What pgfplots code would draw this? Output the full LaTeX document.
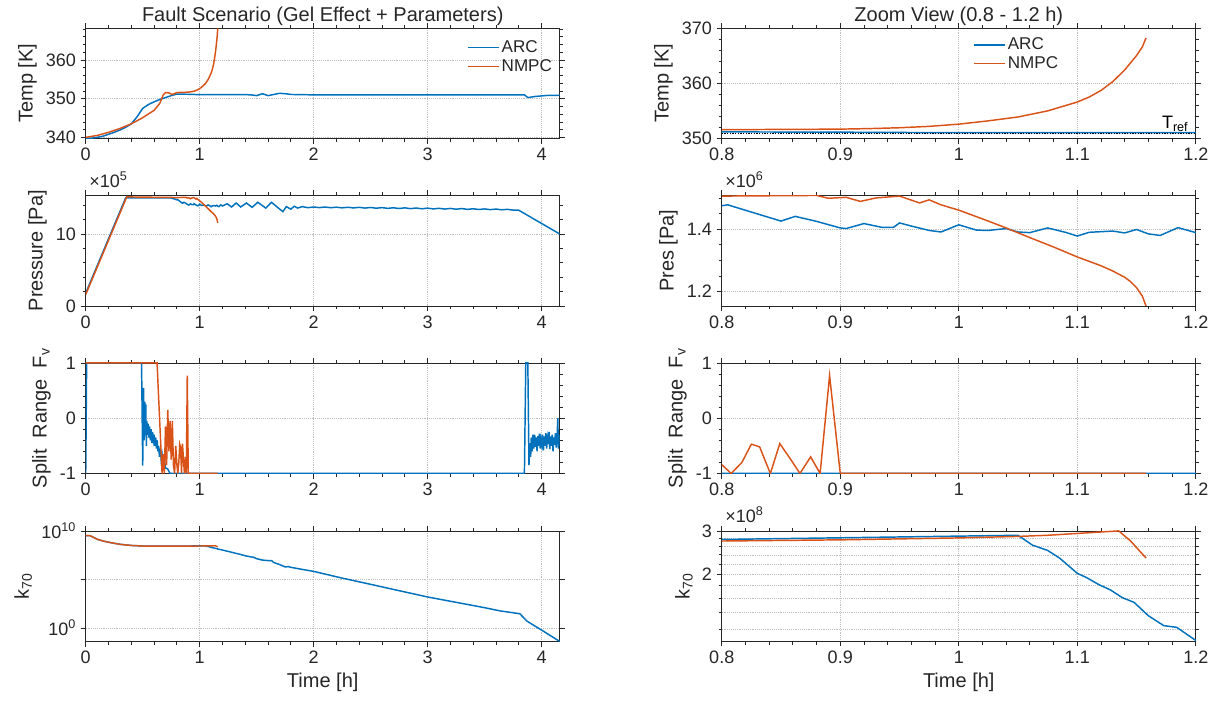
\documentclass[border=0pt]{standalone}
\usepackage{pgfplots}
\pgfplotsset{compat=1.18}
\usepackage{pgfplotstable}
\usepackage{fontspec}
\setmainfont{Liberation Sans}
\definecolor{arcblue}{RGB}{0,114,189}
\definecolor{nmpcor}{RGB}{217,83,25}
\definecolor{axcol}{RGB}{38,38,38}
\newcommand\tickfont{\fontsize{13.5}{15}\selectfont}
\newcommand\labfont{\fontsize{15}{17}\selectfont}
\newcommand\legfont{\fontsize{12.8}{14}\selectfont}

% ---------------- Temperature [K]
\pgfplotstableread{
t T
0 339.7
0.05 339.8
0.1 340.0
0.15 340.3
0.2 340.8
0.25 341.3
0.3 341.9
0.35 342.6
0.4 343.5
0.45 345.3
0.5 347.5
0.55 348.5
0.6 349.2
0.65 349.8
0.7 350.3
0.75 350.8
0.8 351.2
0.9 351.15
1.0 351.05
1.2 351.05
1.4 351.05
1.45 351.0
1.5 350.8
1.55 351.3
1.6 350.8
1.65 351.1
1.7 351.4
1.75 351.3
1.8 351.1
2.0 351.0
3.85 351.0
3.88 350.3
3.95 350.6
4.05 350.85
4.16 350.9
}\TarcT
\pgfplotstableread{
t T
0 340.0
0.1 340.5
0.2 341.3
0.3 342.3
0.4 343.5
0.5 345.1
0.6 347.0
0.65 348.8
0.68 351.0
0.7 351.6
0.73 351.5
0.76 351.1
0.8 351.6
0.85 351.65
0.9 351.7
0.925 351.8
0.95 351.95
0.975 352.2
1.0 352.6
1.025 353.2
1.05 353.9
1.075 355.0
1.1 356.6
1.11 357.5
1.12 358.7
1.13 360.3
1.14 362.4
1.15 365.0
1.155 366.6
1.158 368.2
}\TnmpcT

% ---------------- Pressure [x1e5 Pa]
\pgfplotstableread{
t p
0 1.8
0.35 15.0
0.75 15.0
0.78 14.85
0.8 14.75
0.805 14.78
0.83 14.49
0.85 14.26
0.862 14.41
0.88 14.25
0.9 14.04
0.905 14.02
0.92 14.18
0.935 14.06
0.945 14.06
0.95 14.2
0.96 14.1
0.975 13.96
0.985 13.91
1.0 14.14
1.015 13.97
1.025 13.96
1.04 14.02
1.05 13.91
1.06 13.89
1.075 14.04
1.09 13.9
1.1 13.78
1.11 13.9
1.13 13.94
1.14 13.88
1.15 13.99
1.16 13.85
1.17 13.8
1.185 14.05
1.2 13.89
1.24 14.2
1.28 13.75
1.32 14.3
1.36 13.75
1.41 14.3
1.46 13.7
1.51 14.4
1.58 13.6
1.63 14.4
1.73 13.1
1.76 13.8
1.8 13.45
1.83 13.85
1.86 13.6
1.9 13.8
1.95 13.65
2.0 13.75
2.05 13.66
2.1 13.74
2.15 13.65
2.2 13.72
2.25 13.63
2.3 13.71
2.35 13.62
2.4 13.7
2.45 13.6
2.5 13.68
2.55 13.58
2.6 13.66
2.65 13.56
2.7 13.64
2.75 13.54
2.8 13.63
2.85 13.52
2.9 13.61
2.95 13.5
3.0 13.59
3.05 13.48
3.1 13.57
3.15 13.46
3.2 13.55
3.25 13.44
3.3 13.53
3.35 13.42
3.4 13.5
3.45 13.4
3.5 13.48
3.55 13.38
3.6 13.46
3.65 13.36
3.7 13.42
3.75 13.32
3.8 13.3
4.16 10.0
}\TarcP
\pgfplotstableread{
t p
0 1.6
0.36 15.15
0.6 15.1
0.8 15.06
0.88 15.08
0.89 14.99
0.905 15.02
0.917 14.89
0.93 15.0
0.95 15.06
0.967 14.84
0.975 14.94
0.985 14.78
1.0 14.61
1.02 14.33
1.04 14.04
1.06 13.73
1.08 13.43
1.1 13.11
1.11 12.97
1.12 12.83
1.13 12.66
1.14 12.46
1.145 12.32
1.15 12.13
1.155 11.85
1.158 11.54
}\TnmpcP

% ---------------- Split range Fv
\pgfplotstableread{
t f
0 -1
0.008 1
0.49 1
0.5 -0.86
0.508 0.55
0.513 -0.4
0.518 0.3
0.522 -0.3
0.527 0.25
0.532 -0.5
0.537 -0.05
0.542 -0.3
0.548 -0.1
0.555 -0.35
0.56 -0.15
0.567 -0.4
0.573 -0.2
0.58 -0.45
0.587 -0.25
0.594 -0.4
0.6 -0.3
0.607 -0.5
0.614 -0.35
0.62 -0.55
0.627 -0.4
0.634 -0.6
0.64 -0.5
0.647 -0.7
0.655 -0.55
0.662 -0.75
0.67 -0.65
0.68 -0.85
0.69 -0.75
0.7 -0.9
0.72 -0.92
0.74 -1
3.85 -1
3.862 1
3.88 1
3.89 -0.85
3.9 -0.45
3.905 -0.7
3.91 -0.35
3.918 -0.6
3.925 -0.3
3.932 -0.55
3.94 -0.3
3.947 -0.52
3.954 -0.35
3.961 -0.6
3.968 -0.32
3.975 -0.5
3.982 -0.28
3.989 -0.55
3.996 -0.38
4.003 -0.48
4.01 -0.3
4.017 -0.58
4.024 -0.33
4.031 -0.5
4.038 -0.27
4.045 -0.55
4.052 -0.36
4.059 -0.47
4.066 -0.25
4.073 -0.56
4.08 -0.33
4.087 -0.5
4.094 -0.3
4.101 -0.6
4.108 -0.35
4.115 -0.48
4.122 -0.27
4.129 -0.53
4.136 -0.38
4.143 0.0
4.148 -0.55
4.153 -0.3
4.16 -0.5
}\TarcF
\pgfplotstableread{
t f
0 1
0.626 1
0.67 -1
0.68 -0.65
0.69 -1
0.70 -0.15
0.71 -0.85
0.72 0.15
0.73 -0.6
0.74 -0.05
0.75 -0.75
0.76 -0.05
0.77 -0.85
0.78 -1
0.79 -0.5
0.8 -0.84
0.808 -1
0.817 -0.8
0.825 -0.47
0.832 -0.52
0.841 -1
0.849 -0.46
0.858 -0.74
0.866 -1
0.875 -0.7
0.883 -1
0.891 0.77
0.9 -1
1.158 -1
}\TnmpcF

% ---------------- k70
\pgfplotstableread{
t k
0 3.3e9
0.04 3.2e9
0.1 1.4e9
0.15 9.3e8
0.2 6.9e8
0.3 4.2e8
0.4 3.2e8
0.5 2.8e8
0.6 2.72e8
0.8 2.77e8
1.05 2.88e8
1.062 2.63e8
1.075 2.5e8
1.085 2.33e8
1.1 2.02e8
1.108 1.94e8
1.118 1.82e8
1.128 1.73e8
1.138 1.61e8
1.148 1.54e8
1.16 1.36e8
1.173 1.24e8
1.184 1.22e8
1.2 1.08e8
1.25 7.8e7
1.3 5.6e7
1.35 4.0e7
1.4 2.8e7
1.45 2.1e7
1.47 2.0e7
1.5 1.4e7
1.55 1.0e7
1.6 8.9e6
1.63 9.0e6
1.65 5.6e6
1.7 3.5e6
1.75 2.0e6
1.78 2.1e6
1.8 1.8e6
1.9 1.1e6
2.0 6.9e5
2.25 1.4e5
2.5 3.2e4
2.75 7.1e3
3.0 1.6e3
3.25 4.5e2
3.5 1.26e2
3.64 58
3.81 30
3.872 5.2
4.0 0.63
4.16 0.042
}\TarcK
\pgfplotstableread{
t k
0 3.3e9
0.04 3.2e9
0.1 1.4e9
0.15 9.3e8
0.2 6.9e8
0.3 4.2e8
0.4 3.2e8
0.5 2.8e8
0.6 2.7e8
0.8 2.73e8
0.9 2.76e8
1.0 2.81e8
1.05 2.85e8
1.075 2.88e8
1.1 2.93e8
1.12 2.97e8
1.135 3.0e8
1.145 2.73e8
1.158 2.33e8
}\TnmpcK

\pgfplotsset{
  mat/.style={
    scale only axis, width=355.5pt, height=82.9pt, anchor=south west,
    axis line style={draw=axcol, line width=0.6pt},
    tick style={draw=axcol, line width=0.6pt},
    major tick length=3.8pt, minor tick length=2.4pt,
    tick align=outside,
    xmajorgrids, ymajorgrids,
    major grid style={densely dotted, black!25, line width=0.5pt},
    minor grid style={densely dotted, black!25, line width=0.5pt},
    tick label style={font=\tickfont, color=axcol},
    label style={font=\labfont, color=axcol},
    title style={font=\labfont, color=axcol, at={(0.5,1)}, anchor=base, yshift=-1pt},
    /pgf/number format/assume math mode=true,
    scaled ticks=false,
  },
  leftx/.style={xmin=0, xmax=4.16, xtick={0,1,2,3,4}, minor x tick num=4},
  rightx/.style={xmin=0.8, xmax=1.2, xtick={0.8,0.9,1,1.1,1.2}, minor x tick num=4},
  arc/.style={color=arcblue, line width=1.1pt},
  nmpc/.style={color=nmpcor, line width=1.1pt},
  leg/.style={
    legend style={draw=none, fill=none, at={#1}, anchor=north west,
      font=\legfont, text=axcol, row sep=0.5pt, inner sep=0pt,
      nodes={inner sep=1.5pt}},
    legend cell align=left,
    legend image code/.code={\draw[##1, line width=1.1pt] (0pt,0pt) -- (23pt,0pt);},
  },
}

\begin{document}
\begin{tikzpicture}
\path[use as bounding box] (0,0) rectangle (912pt,525pt);

% ===== Left column
\begin{axis}[mat, leftx, at={(64.3pt,421.1pt)},
  ymin=339.7, ymax=368.3, ytick={340,350,360},
  minor ytick={342,344,346,348,352,354,356,358,362,364,366,368},
  ylabel={Temp [K]},
  title={Fault Scenario (Gel Effect + Parameters)},
  leg={(0.805,0.905)}]
\addplot[arc] table[x=t,y=T] {\TarcT};
\addlegendentry{ARC}
\addplot[nmpc] table[x=t,y=T] {\TnmpcT};
\addlegendentry{NMPC}
\end{axis}

\begin{axis}[mat, leftx, at={(64.3pt,295.5pt)},
  ymin=0, ymax=15.35, ytick={0,10},
  minor ytick={2,4,6,8,12,14},
  ylabel={Pressure [Pa]},
  after end axis/.code={\node[anchor=base west, font=\tickfont, text=axcol, inner sep=0pt]
     at ([xshift=2.5pt,yshift=6pt]rel axis cs:0,1) {×10\textsuperscript{5}};}]
\addplot[arc] table[x=t,y=p] {\TarcP};
\addplot[nmpc] table[x=t,y=p] {\TnmpcP};
\end{axis}

\begin{axis}[mat, leftx, at={(64.3pt,169.9pt)},
  ymin=-1, ymax=1, ytick={-1,0,1}, yticklabels={-1,0,1},
  minor ytick={-0.8,-0.6,-0.4,-0.2,0.2,0.4,0.6,0.8},
  ylabel={Split\ \ Range\ \ F\textsubscript{v}}]
\addplot[arc] table[x=t,y=f] {\TarcF};
\addplot[nmpc] table[x=t,y=f] {\TnmpcF};
\end{axis}

\begin{axis}[mat, leftx, at={(64.3pt,43.9pt)},
  ymode=log, ymin=0.042, ymax=1e10, ytick={1,1e5,1e10},
  yticklabels={10\textsuperscript{0},,10\textsuperscript{10}},
  ylabel={k\textsubscript{70}}, xlabel={Time [h]}]
\addplot[arc] table[x=t,y=k] {\TarcK};
\addplot[nmpc] table[x=t,y=k] {\TnmpcK};
\end{axis}

% ===== Right column
\begin{axis}[mat, rightx, at={(541.3pt,421.1pt)},
  ymin=350, ymax=370, ytick={350,360,370},
  minor ytick={352,354,356,358,362,364,366,368},
  ylabel={Temp [K]},
  title={Zoom View (0.8 - 1.2 h)},
  leg={(0.531,0.93)}]
\addplot[arc] table[x=t,y=T] {\TarcT};
\addlegendentry{ARC}
\addplot[nmpc] table[x=t,y=T] {\TnmpcT};
\addlegendentry{NMPC}
\addplot[black, densely dotted, line width=1pt, forget plot] coordinates {(0.8,350.9) (1.2,350.9)};
\node[anchor=base east, font=\tickfont, text=black, inner sep=0pt] at (axis cs:1.194,351.8) {T\textsubscript{ref}};
\end{axis}

\begin{axis}[mat, rightx, at={(541.3pt,295.5pt)},
  ymin=11.54, ymax=15.08, ytick={12,14}, yticklabels={1.2,1.4},
  minor ytick={12.5,13,13.5,14.5,15},
  ylabel={Pres [Pa]},
  after end axis/.code={\node[anchor=base west, font=\tickfont, text=axcol, inner sep=0pt]
     at ([xshift=2.5pt,yshift=6pt]rel axis cs:0,1) {×10\textsuperscript{6}};}]
\addplot[arc] table[x=t,y=p] {\TarcP};
\addplot[nmpc] table[x=t,y=p] {\TnmpcP};
\end{axis}

\begin{axis}[mat, rightx, at={(541.3pt,169.9pt)},
  ymin=-1, ymax=1, ytick={-1,0,1}, yticklabels={-1,0,1},
  minor ytick={-0.8,-0.6,-0.4,-0.2,0.2,0.4,0.6,0.8},
  ylabel={Split\ \ Range\ \ F\textsubscript{v}}]
\addplot[arc] table[x=t,y=f] {\TarcF};
\addplot[nmpc] table[x=t,y=f] {\TnmpcF};
\end{axis}

\begin{axis}[mat, rightx, at={(541.3pt,43.9pt)},
  ymode=log, ymin=1.07e8, ymax=3e8, ytick={2e8,3e8}, yticklabels={2,3},
  minor ytick={1.2e8,1.4e8,1.6e8,1.8e8,2.2e8,2.4e8,2.6e8,2.8e8},
  yminorgrids,
  ylabel={k\textsubscript{70}}, xlabel={Time [h]},
  after end axis/.code={\node[anchor=base west, font=\tickfont, text=axcol, inner sep=0pt]
     at ([xshift=2.5pt,yshift=6pt]rel axis cs:0,1) {×10\textsuperscript{8}};}]
\addplot[arc] table[x=t,y=k] {\TarcK};
\addplot[nmpc] table[x=t,y=k] {\TnmpcK};
\end{axis}
\end{tikzpicture}
\end{document}
